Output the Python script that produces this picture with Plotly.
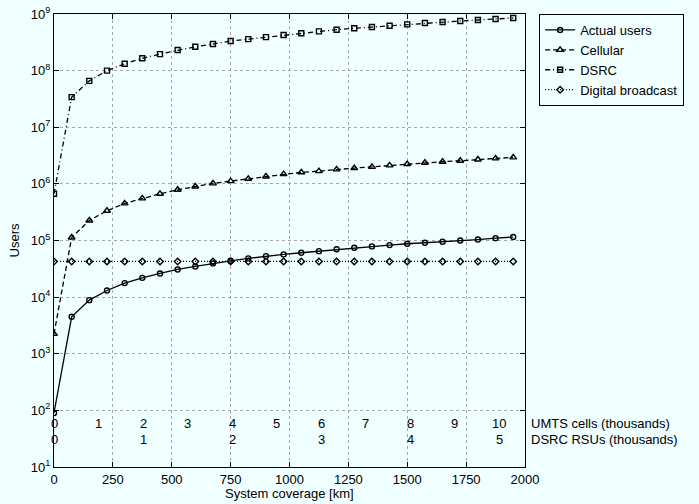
import plotly.graph_objects as go

# ---- data ----
coverage_km = [0, 75, 150, 225, 300, 375, 450, 525, 600, 675, 750, 825, 900, 975,
               1050, 1125, 1200, 1275, 1350, 1425, 1500, 1575, 1650, 1725, 1800, 1875, 1950]

actual_users = [90, 4.49e3, 8.85e3, 1.31e4, 1.77e4, 2.19e4, 2.62e4, 3.08e4, 3.48e4, 3.94e4,
                4.38e4, 4.83e4, 5.3e4, 5.68e4, 6.08e4, 6.49e4, 7.02e4, 7.43e4, 7.86e4, 8.3e4,
                8.77e4, 9.12e4, 9.49e4, 1.0e5, 1.04e5, 1.1e5, 1.15e5]

cellular = [2.25e3, 1.13e5, 2.26e5, 3.35e5, 4.52e5, 5.54e5, 6.68e5, 7.87e5, 9.0e5, 1.02e6,
            1.12e6, 1.23e6, 1.35e6, 1.49e6, 1.6e6, 1.68e6, 1.8e6, 1.9e6, 2.0e6, 2.12e6,
            2.24e6, 2.36e6, 2.46e6, 2.56e6, 2.7e6, 2.82e6, 2.94e6]

dsrc = [6.7e5, 3.4e7, 6.6e7, 1.0e8, 1.32e8, 1.65e8, 1.96e8, 2.31e8, 2.64e8, 2.95e8,
        3.33e8, 3.6e8, 3.9e8, 4.25e8, 4.56e8, 4.94e8, 5.28e8, 5.59e8, 5.89e8, 6.21e8,
        6.56e8, 6.93e8, 7.22e8, 7.52e8, 7.84e8, 8.17e8, 8.5e8]

broadcast = [4.27e4] * 27

x_ticks = [0, 250, 500, 750, 1000, 1250, 1500, 1750, 2000]
y_ticks = [1e1, 1e2, 1e3, 1e4, 1e5, 1e6, 1e7, 1e8, 1e9]
y_ticktext = ["10<sup>%d</sup>" % e for e in range(1, 10)]

umts_labels = ["0", "1", "2", "3", "4", "5", "6", "7", "8", "9", "10"]
umts_km = [0, 189, 378, 567, 756, 945, 1134, 1323, 1512, 1701, 1890]
rsu_labels = ["0", "1", "2", "3", "4", "5"]
rsu_km = [0, 378, 756, 1134, 1512, 1890]

BG = "#F0FFFF"
FONT = "Liberation Sans, Arial, Helvetica, sans-serif"

fig = go.Figure()

series = [
    ("Actual users", actual_users, "solid", "circle-open", 5),
    ("Cellular", cellular, "5px,3px", "triangle-up-open", 6),
    ("DSRC", dsrc, "5px,3px,1px,3px", "square-open", 5),
    ("Digital broadcast", broadcast, "1px,2px", "diamond-open", 5),
]
for name, vals, dash, sym, msize in series:
    fig.add_trace(go.Scatter(
        x=coverage_km, y=vals, name=name, mode="lines+markers",
        line=dict(color="black", width=1.3, dash=dash),
        marker=dict(symbol=sym, size=msize, color="black", line=dict(width=1.4, color="black")),
    ))

annotations = []
for lab, xv in zip(umts_labels, umts_km):
    annotations.append(dict(x=xv, y=0.0757, xref="x", yref="paper", text=lab,
                            showarrow=False, font=dict(size=13, color="black")))
for lab, xv in zip(rsu_labels, rsu_km):
    annotations.append(dict(x=xv, y=0.039, xref="x", yref="paper", text=lab,
                            showarrow=False, font=dict(size=13, color="black")))
annotations.append(dict(x=1.008, y=0.0757, xref="paper", yref="paper", xanchor="left",
                        text="UMTS cells (thousands)", showarrow=False,
                        font=dict(size=13, color="black")))
annotations.append(dict(x=1.008, y=0.039, xref="paper", yref="paper", xanchor="left",
                        text="DSRC RSUs (thousands)", showarrow=False,
                        font=dict(size=13, color="black")))
annotations.append(dict(x=0.5, y=-0.058, xref="paper", yref="paper", xanchor="center",
                        yanchor="middle", text="System coverage [km]", showarrow=False,
                        font=dict(size=13, color="black")))

fig.update_layout(
    width=699, height=504,
    margin=dict(l=54, r=174, t=14, b=37),
    paper_bgcolor=BG, plot_bgcolor=BG,
    font=dict(family=FONT, size=13, color="black"),
    showlegend=True,
    legend=dict(x=1.03, y=1.0, xanchor="left", yanchor="top",
                bgcolor=BG, bordercolor="black", borderwidth=1,
                font=dict(size=13), itemwidth=30, tracegroupgap=0),
    annotations=annotations,
)

fig.update_xaxes(
    range=[0, 2000], tickvals=x_ticks, ticks="inside", ticklen=5, tickcolor="black",
    showline=True, linecolor="black", linewidth=1.2, mirror="ticks",
    showgrid=True, gridcolor="#A8A8A8", griddash="dot", gridwidth=1,
    zeroline=False, automargin=False, ticklabeloverflow="allow",
    tickfont=dict(size=13),
)
fig.update_yaxes(
    type="log", range=[1, 9], tickvals=y_ticks, ticktext=y_ticktext,
    ticks="inside", ticklen=5, tickcolor="black",
    showline=True, linecolor="black", linewidth=1.2, mirror="ticks",
    showgrid=True, gridcolor="#A8A8A8", griddash="dot", gridwidth=1,
    zeroline=False, automargin=False, ticklabeloverflow="allow",
    title=dict(text="Users", standoff=8, font=dict(size=13)),
    tickfont=dict(size=13),
)

fig.write_html(
    "out.html",
    config={"displayModeBar": False},
    post_script="document.body.style.margin='0';document.body.style.background='%s';" % BG,
)
